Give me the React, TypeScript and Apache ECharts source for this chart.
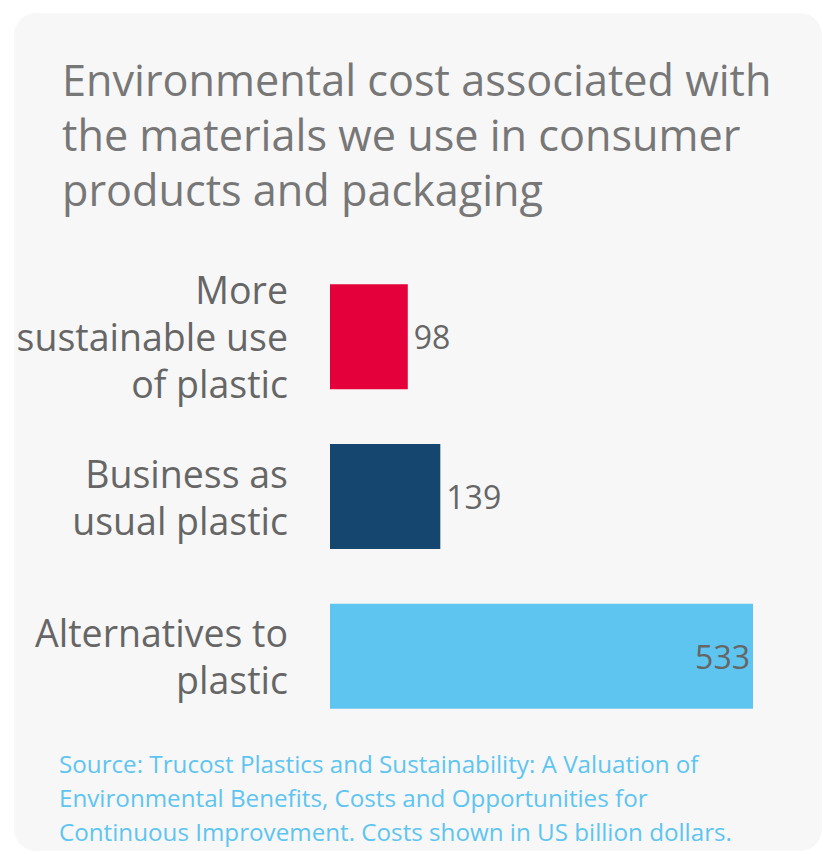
import React, { useEffect, useRef } from "react";
import * as echarts from "echarts";

const categories: string[] = [
  "More\nsustainable use\nof plastic",
  "Business as\nusual plastic",
  "Alternatives to\nplastic",
];
const values: number[] = [98, 139, 533];
const barColors: string[] = ["#e4003b", "#154670", "#5ec5f0"];
const titleText = "Environmental cost associated with\nthe materials we use in consumer\nproducts and packaging";
const sourceText =
  "Source: Trucost Plastics and Sustainability: A Valuation of\nEnvironmental Benefits, Costs and Opportunities for\nContinuous Improvement. Costs shown in US billion dollars.";

const FONT = "'Open Sans', 'Noto Sans', sans-serif";

export default function App() {
  const ref = useRef<HTMLDivElement>(null);
  useEffect(() => {
    if (!ref.current) return;
    const chart = echarts.init(ref.current, undefined, { renderer: "svg" });
    chart.setOption({
      animation: false,
      backgroundColor: "#ffffff",
      graphic: [
        {
          type: "rect",
          z: -10,
          shape: { x: 14, y: 13, width: 808, height: 838, r: 22 },
          style: { fill: "#f7f7f7" },
          silent: true,
        },
        {
          type: "text",
          x: 59,
          y: 746,
          style: {
            text: sourceText,
            fontSize: 24.2,
            lineHeight: 34,
            fill: "#5ec5f0",
            fontFamily: FONT,
          },
        },
      ],
      title: {
        text: titleText,
        left: 57,
        top: 47,
        textStyle: {
          fontSize: 43.2,
          lineHeight: 55,
          color: "#777777",
          fontWeight: "normal",
          fontFamily: FONT,
        },
      },
      grid: { left: 330, right: 70, top: 257, bottom: 118, containLabel: false },
      xAxis: {
        type: "value",
        min: 0,
        max: 533,
        show: false,
      },
      yAxis: {
        type: "category",
        inverse: true,
        data: categories,
        axisLine: { show: false },
        axisTick: { show: false },
        splitLine: { show: false },
        axisLabel: {
          margin: 42,
          fontSize: 37.5,
          lineHeight: 47,
          color: "#666666",
          fontFamily: FONT,
          align: "right",
        },
      },
      series: [
        {
          type: "bar",
          barWidth: 105,
          data: values.map((v, i) => ({
            value: v,
            itemStyle: { color: barColors[i] },
            label:
              i === values.length - 1
                ? { position: "insideRight", distance: 3 }
                : { position: "right", distance: 6 },
          })),
          label: {
            show: true,
            fontSize: 32,
            color: "#666666",
            fontFamily: FONT,
          },
        },
      ],
    });
    return () => chart.dispose();
  }, []);
  return (
    <div
      ref={ref}
      style={{ position: "fixed", left: 0, top: 0, width: 823, height: 854 }}
    />
  );
}
